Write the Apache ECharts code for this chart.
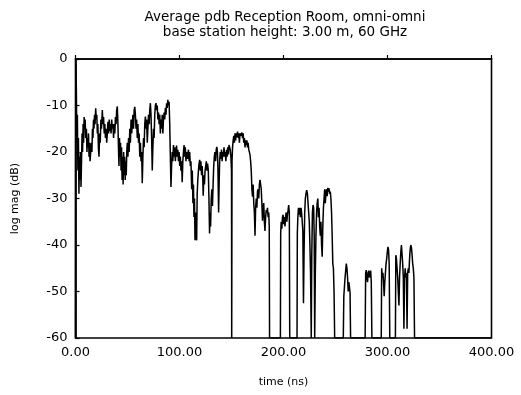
<!DOCTYPE html>
<html>
<head>
<meta charset="utf-8">
<script src="https://cdn.jsdelivr.net/npm/echarts@6/dist/echarts.min.js"></script>
<style>
html,body{margin:0;padding:0;background:#fff;}
#c{width:521px;height:395px;}
</style>
</head>
<body>
<div id="c"></div>
<script>
// Axis ticks
const xTicks = [0, 100, 200, 300, 400];
const yTicks = [-60, -50, -40, -30, -20, -10, 0];
const titleLines = ['Average pdb Reception Room, omni-omni', 'base station height: 3.00 m, 60 GHz'];

// [time (ns), log mag (dB)]
const pdpEarly = [
[0,-60],[0.3,-1],[0.8,-6],[1.3,-18],[1.8,-12],[2.3,-24],[2.8,-17],[3.3,-29],[3.8,-21],[4.3,-26],[4.8,-20],[5.3,-27.5],[5.8,-22],[6.3,-16],[6.8,-20],[7.3,-14],[7.8,-18],[8.3,-12.5],[8.8,-15],[9.3,-13],[9.8,-17],
[10.5,-15],[11,-20],[11.5,-17],[12,-19],[12.5,-16],[13,-21],[13.5,-18],[14,-22],[14.6,-21.7],[15.2,-18],[15.8,-20],[16.3,-15],[16.8,-17],[17.3,-13],[17.8,-15],[18.3,-12],[18.8,-14],[19.4,-10.6],
[20,-13],[20.5,-12],[21,-16],[21.5,-14],[22,-19],[22.6,-21],[23.2,-16],[23.8,-18],[24.4,-13],[25,-15],[25.8,-11],[26.4,-14],[27,-12.5],[27.6,-16],[28.2,-14],[28.8,-17],[29.4,-15],
[30,-18],[30.6,-16],[31.2,-13.5],[31.8,-16],[32.4,-13],[33,-15.5],[33.6,-14],[34.2,-16],[34.8,-13],[35.4,-15],[36,-14],[36.6,-17],[37.2,-14],[37.8,-16],[38.4,-12.5],[39,-14],[39.6,-11],
[40.2,-10.2],[40.8,-14],[41.3,-19],[41.8,-23],[42.3,-17],[42.8,-21],[43.3,-18],[43.8,-24],[44.3,-19],[44.8,-26],[45.3,-21],[45.8,-27],[46.3,-20],[46.8,-25],[47.3,-21],[47.8,-26],[48.3,-22],[48.8,-25],[49.3,-20],[49.8,-18],
[50.4,-21],[51,-17],[51.6,-20],[52.2,-15],[52.8,-18],[53.4,-13],[54,-16],[54.6,-14],[55.2,-12],[55.8,-15],[56.4,-11],[57,-10.3],[57.6,-12],[58.2,-15],[58.8,-13],[59.4,-17],
[60,-14],[60.6,-18],[61.2,-16],[61.8,-21],[62.4,-18],[63,-22],[63.6,-20],[64.2,-26.7],[64.8,-21],[65.4,-17],[66,-19],[66.6,-14],[67.2,-12.4],[67.8,-15],[68.4,-13],[69,-18],[69.6,-15],
[70.2,-12],[70.8,-14],[71.4,-11],[72,-9.5],[72.6,-12],[73.2,-17],[73.8,-24],[74.4,-19],[75,-15],[75.6,-17],[76.2,-12],[76.8,-10],[77.4,-9.5],[78,-11],[78.6,-10],[79.2,-13],[79.8,-11.5],
[80.4,-14],[81,-12],[81.6,-16],[82.2,-13],[82.8,-15],[83.4,-12],[84,-16],[84.6,-13],[85.2,-11.5],[85.8,-13],[86.4,-10.5],[87,-12],[87.6,-9.5],[88.2,-10.5],[88.8,-8.8],[89.4,-10],
[90,-9.2],[90.6,-14],[91.2,-21],[91.8,-27.5],[92.4,-23],[93,-20],[93.6,-22],[94.2,-18.5],[94.8,-21],[95.4,-19],[96,-22],[96.6,-20],[97.2,-18.6],[97.8,-21],[98.4,-19.5],[99,-22],[99.6,-20]
];

const pdpMid = [
[100.2,-23],[100.8,-21],[101.4,-24],[102,-22],[102.6,-26.5],[103.2,-22],[103.8,-20],[104.4,-18.5],[105,-21],[105.6,-19],[106.2,-22],[106.8,-20],[107.4,-19.8],[108,-21.5],[108.6,-19.5],[109.2,-22],[109.8,-20],
[110.4,-23],[111,-22],[111.7,-28],[112.3,-24],[112.9,-31],[113.4,-27],[113.9,-34],[114.4,-30],[114.9,-39],[115.4,-33],[115.9,-36],[116.5,-39],[117,-29],[117.6,-26],[118.2,-24],[118.8,-22.5],[119.4,-21.7],
[120,-24],[120.6,-22],[121.2,-25],[121.8,-23],[122.4,-26],[122.8,-29.4],[123.4,-25],[124,-27],[124.6,-24],[125.2,-23],[125.8,-22],[126.4,-24],[127,-22.5],[127.7,-24],[128.3,-30],[128.9,-37.5],[129.4,-33],[129.9,-36],
[130.5,-30],[131.1,-28],[131.7,-31.6],[132.3,-27],[132.9,-23],[133.5,-21],[134.1,-20],[134.7,-22],[135.3,-19.5],[135.9,-18.9],[136.5,-20],[137,-24],[137.6,-33],[138.1,-27],[138.6,-22],[139.2,-20],[139.8,-21.5],
[140.4,-19.5],[141,-22],[141.6,-20],[142.2,-21],[142.8,-19],[143.4,-21],[144,-20],[144.6,-22],[145.2,-19.5],[145.8,-21],[146.4,-19],[147,-20.5],[147.6,-18.5],[148.2,-18.3],[148.8,-19.5],[149.4,-21],
[150,-24],[150.2,-60],[150.5,-22],[151,-19],[151.6,-17.5],[152.2,-16.5],[152.8,-18],[153.4,-16],[154,-17.5],[154.6,-16],[155.2,-16.8],[155.8,-15.6],[156.4,-17],[157,-16],[157.6,-18],[158.2,-16],[158.8,-15.6],[159.4,-16.5],
[160,-15.8],[160.6,-17],[161.2,-16],[161.8,-18],[162.4,-17],[163,-19],[163.6,-17.5],[164.2,-18.5],[164.8,-17.5],[165.4,-19],[166,-18],[166.6,-19.5],[167.2,-20],[167.8,-20.6],[168.4,-22],[169,-24],[169.6,-28],
[170.2,-29.6],[170.8,-27],[171.4,-31],[172,-33],[172.6,-38],[173.2,-32],[173.8,-30],[174.4,-32],[175,-28.5],[175.6,-28],[176.2,-30],[176.8,-27],[177.4,-26],[178,-25.6],[178.6,-28],[179.2,-31],[179.8,-34.8],
[180.4,-32],[181,-31],[181.6,-35],[182.2,-37],[182.8,-34],[183.4,-32.5],[184,-33],[184.6,-32],[185.2,-34],[185.8,-33],[186.3,-36],[186.6,-60]
];

const pdpLate = [
[197,-60],[197.3,-37.5],[197.8,-35],[198.4,-36.5],[199,-34],[199.6,-33.5],[200.2,-35.5],[200.8,-34],[201.4,-36],[202,-34],[202.6,-33],[203.2,-35],[203.8,-33.5],[204.4,-32.5],[205,-31.4],[205.6,-33],[206,-60],
[213,-60],[213.3,-37.5],[213.8,-34],[214.4,-32],[215,-33.5],[215.6,-32],[216.2,-34],[216.8,-32],[217.4,-33],[218,-35],[218.6,-37],[219.2,-52.5],[219.8,-41],[220.4,-33],[221,-30],[221.6,-29],[222.3,-28.2],[223,-29],[223.6,-31],[224.2,-33],[224.8,-35],[225.4,-40],[226,-46],[226.7,-60],
[227.2,-42],[227.8,-33],[228.4,-31.4],[229,-32],[229.5,-38],[230,-60],[230.6,-46],[231.2,-38],[231.8,-33],[232.4,-31],[233,-30],[233.6,-34],[234.2,-32],[234.8,-36],[235.4,-38],[236,-35],[236.6,-40],[237.2,-42.5],[237.8,-36],[238.4,-32],[239,-30],[239.6,-28],
[240.2,-31],[240.8,-29],[241.4,-28],[242,-29.5],[242.6,-27.7],[243.2,-28.5],[243.8,-27.8],[244.4,-29],[245,-28.5],[245.6,-30],[246.2,-33],[246.8,-38],[247.4,-44],[248,-45],[248.6,-50],[249.2,-60],
[257.5,-60],[258,-51],[258.6,-49],[259.2,-47],[259.8,-45.5],[260.4,-44],[261,-45],[261.6,-47],[262.2,-50],[262.8,-48],[263.4,-49],[264,-50.3],[264.5,-60],
[278.5,-60],[279,-46],[279.6,-45.4],[280.2,-47],[280.8,-48],[281.4,-46],[282,-45.5],[282.6,-47],[283.2,-46.5],[283.8,-45.5],[284.4,-48],[285,-60],
[294,-60],[294.4,-45],[295,-47],[295.6,-46],[296.2,-48],[296.8,-51],[297.4,-48],[298,-46],[298.6,-44],[299.2,-43],[299.8,-41.5],[300.4,-40.4],[301,-41],[301.6,-44],[302.2,-60],
[307.6,-60],[308,-42.2],[308.6,-43],[309.2,-45],[309.8,-47],[310.4,-50],[311,-53],[311.6,-47],[312.2,-44],[312.8,-41.5],[313.4,-40],[314,-42],[314.6,-44],[315.2,-47],[315.8,-58],[316.4,-47],[317,-45],[317.6,-47],[318.2,-46],[318.8,-58],[319.4,-46],
[320,-45],[320.6,-46],[321.2,-43],[321.8,-41],[322.4,-40],[323,-40.5],[323.6,-42],[324.2,-44],[324.8,-45],[325.4,-47],[326,-60],[400,-60]
];

const pdp = pdpEarly.concat(pdpMid, pdpLate);
const FONT = 'DejaVu Sans';

const chart = echarts.init(document.getElementById('c'), null, {renderer: 'canvas'});
chart.setOption({
  animation: false,
  backgroundColor: '#fff',
  graphic: titleLines.map((t, i) => ({
    type: 'text', x: 285, y: 17 + i * 15,
    style: {text: t, fill: '#000', font: '13.5px "' + FONT + '"', textAlign: 'center', textVerticalAlign: 'middle'}
  })),
  grid: {left: 75.5, right: 29.5, top: 59, bottom: 57, show: true, borderColor: '#000', borderWidth: 1.6},
  xAxis: {
    type: 'value', min: xTicks[0], max: xTicks[xTicks.length - 1], interval: 100,
    axisLine: {lineStyle: {color: '#000', width: 1.6}},
    axisTick: {inside: true, length: 4, lineStyle: {color: '#000', width: 1.2}},
    splitLine: {show: false},
    axisLabel: {formatter: v => v.toFixed(2), color: '#000', fontSize: 13, fontFamily: FONT, margin: 8},
    name: 'time (ns)', nameLocation: 'middle', nameGap: 39,
    nameTextStyle: {color: '#000', fontSize: 11, fontFamily: FONT}
  },
  yAxis: {
    type: 'value', min: yTicks[0], max: yTicks[yTicks.length - 1], interval: 10,
    axisLine: {lineStyle: {color: '#000', width: 1.6}},
    axisTick: {inside: true, length: 4, lineStyle: {color: '#000', width: 1.2}},
    splitLine: {show: false},
    axisLabel: {color: '#000', fontSize: 13, fontFamily: FONT, margin: 8},
    name: 'log mag (dB)', nameLocation: 'middle', nameGap: 55,
    nameTextStyle: {color: '#000', fontSize: 11, fontFamily: FONT}
  },
  series: [{
    type: 'line', data: pdp, showSymbol: false, symbol: 'none',
    lineStyle: {color: '#000', width: 1.5}
  }]
});
</script>
</body>
</html>
